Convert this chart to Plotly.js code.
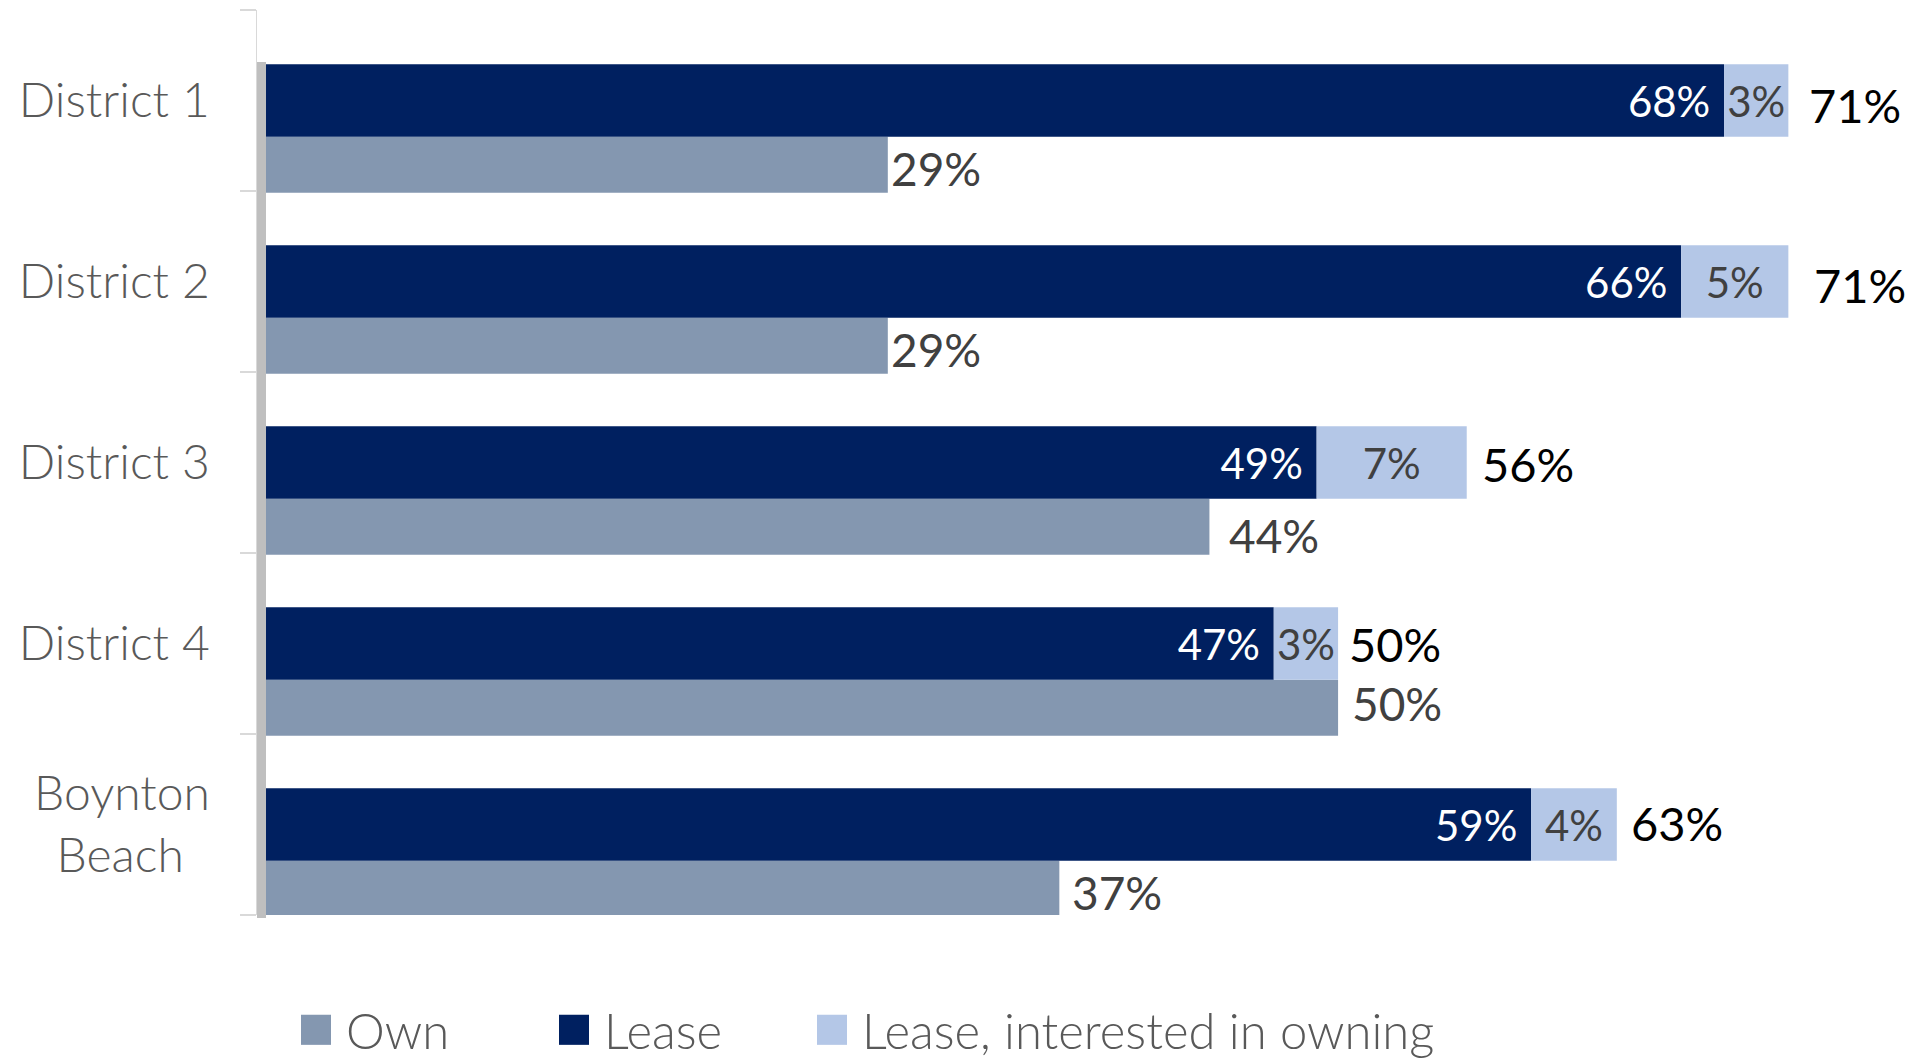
<!DOCTYPE html>
<html>
<head>
<meta charset="utf-8">
<script src="https://cdn.plot.ly/plotly-3.0.1.min.js"></script>
<style>
  html, body { margin: 0; padding: 0; background: #ffffff; }
  #chart { width: 1918px; height: 1058px; }
</style>
</head>
<body>
<div id="chart"></div>
<script>
// ---- Data ----
const categories = ['District 1', 'District 2', 'District 3', 'District 4', 'Boynton Beach'];
const tickLabels = ['District 1', 'District 2', 'District 3', 'District 4', 'Boynton<br>Beach\u00a0\u00a0'];
const own        = [29, 29, 44, 50, 37];
const lease      = [68, 66, 49, 47, 59];
const leaseInterested = [3, 5, 7, 3, 4];
const totals     = [71, 71, 56, 50, 63];
const seriesNames = ['Own', 'Lease', 'Lease, interested in owning'];

// ---- Styles ----
const FONT = 'Lato, "Open Sans", sans-serif';
const colOwn = '#8497B0';
const colLease = '#002060';
const colInt = '#B4C7E7';
const pct = v => v + '%';

// label nudges (pixels), matching the original's label placement
const ownLabelDx   = [1, 1, 18, 12, 11];
const ownLabelDy   = [-4, -4, -9, 4, -4];
const totalLabelDx = [19, 24, 13, 9, 12];
const totalLabelDy = [-4, -3, -1, 0, 2];

const OWN_OFFSET = 0.2, OWN_WIDTH = 0.31;

const traces = [
  {
    type: 'bar', orientation: 'h', name: seriesNames[0],
    y: categories, x: own,
    offset: OWN_OFFSET, width: OWN_WIDTH,
    marker: { color: colOwn, line: { width: 0 } },
    hoverinfo: 'skip'
  },
  {
    type: 'bar', orientation: 'h', name: seriesNames[1],
    y: categories, x: lease,
    offset: -0.2, width: 0.4,
    marker: { color: colLease, line: { width: 0 } },
    text: lease.map(v => pct(v) + '\u00a0'), textposition: 'inside', insidetextanchor: 'end',
    textfont: { family: FONT, size: 42, color: '#FFFFFF' },
    constraintext: 'none', cliponaxis: false, hoverinfo: 'skip'
  },
  {
    type: 'bar', orientation: 'h', name: seriesNames[2],
    y: categories, x: leaseInterested, base: lease,
    offset: -0.2, width: 0.4,
    marker: { color: colInt, line: { width: 0 } },
    text: leaseInterested.map(pct), textposition: 'inside', insidetextanchor: 'middle',
    textfont: { family: FONT, size: 42, color: '#404040' },
    constraintext: 'none', cliponaxis: false, hoverinfo: 'skip',
    legendwidth: 660
  }
];

const totalAnnotations = categories.map((c, i) => ({
  x: totals[i], y: i, xref: 'x', yref: 'y',
  text: pct(totals[i]), showarrow: false,
  xanchor: 'left', yanchor: 'middle', xshift: totalLabelDx[i], yshift: totalLabelDy[i],
  font: { family: FONT, size: 47, color: '#000000' }
}));

const ownAnnotations = categories.map((c, i) => ({
  x: own[i], y: i + OWN_OFFSET + OWN_WIDTH / 2, xref: 'x', yref: 'y',
  text: pct(own[i]), showarrow: false,
  xanchor: 'left', yanchor: 'middle', xshift: ownLabelDx[i], yshift: ownLabelDy[i],
  font: { family: FONT, size: 46, color: '#404040' }
}));

const W = 1918, H = 1058;
const mL = 257, mR = 10, mT = 10, mB = 143;
const plotH = H - mT - mB;

const layout = {
  width: W, height: H,
  paper_bgcolor: '#ffffff', plot_bgcolor: '#ffffff',
  margin: { l: mL, r: mR, t: mT, b: mB, autoexpand: false },
  barmode: 'overlay',
  showlegend: true,
  font: { family: FONT },
  xaxis: {
    range: [-0.42, 76.58],
    showgrid: false, zeroline: false, showticklabels: false, ticks: '', showline: false
  },
  yaxis: {
    type: 'category',
    categoryorder: 'array', categoryarray: categories,
    tickvals: categories, ticktext: tickLabels,
    range: [4.5, -0.5],
    tickson: 'boundaries',
    ticks: 'outside', ticklen: 16, tickwidth: 1.5, tickcolor: '#D9D9D9',
    showline: true, linecolor: '#D9D9D9', linewidth: 1.5,
    showgrid: false, zeroline: false,
    ticklabelstandoff: 36,
    tickfont: { family: FONT, size: 48, color: '#595959', weight: 300 }
  },
  legend: {
    orientation: 'h', traceorder: 'normal',
    xref: 'container', yref: 'container',
    x: 286 / W, xanchor: 'left',
    y: 1 - 1030 / H, yanchor: 'middle',
    itemwidth: 50, entrywidth: 193, entrywidthmode: 'pixels',
    font: { family: FONT, size: 49, color: '#595959', weight: 300 },
    bgcolor: 'rgba(0,0,0,0)', borderwidth: 0
  },
  shapes: [{
    type: 'rect', xref: 'x', yref: 'paper', layer: 'below',
    x0: -0.42, x1: 0,
    y0: 1 - (62 - mT) / plotH, y1: 1 - (918 - mT) / plotH,
    fillcolor: '#BFBFBF', line: { width: 0 }
  }],
  annotations: totalAnnotations.concat(ownAnnotations)
};

Plotly.newPlot('chart', traces, layout, { displayModeBar: false, staticPlot: true }).then(() => {
  document.querySelectorAll('.legend .legendpoints path').forEach(p => {
    p.setAttribute('d', 'M15,15H-15V-15H15Z');
  });
});
</script>
</body>
</html>
